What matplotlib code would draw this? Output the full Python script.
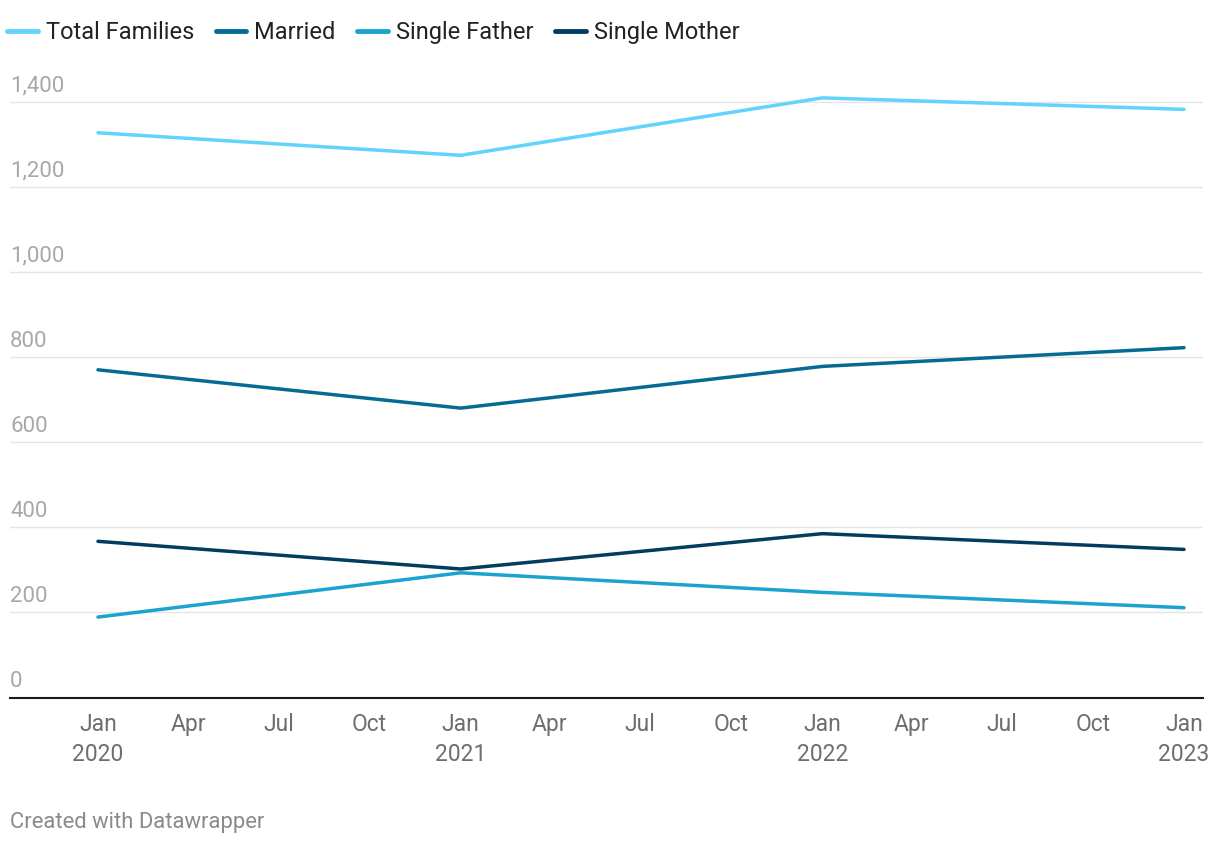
import matplotlib
matplotlib.use("Agg")
import matplotlib.pyplot as plt
import matplotlib.dates as mdates
import matplotlib.transforms as mtransforms
from matplotlib.lines import Line2D
import numpy as np
import datetime as dt

plt.rcParams['font.family'] = ['Roboto', 'DejaVu Sans']

# data
dates = [dt.date(2020, 1, 1), dt.date(2021, 1, 1), dt.date(2022, 1, 1), dt.date(2023, 1, 1)]
total_families = [1327, 1274, 1409, 1382]
married = [770, 680, 778, 822]
single_father = [189, 293, 247, 211]
single_mother = [367, 302, 385, 348]

series_names = ["Total Families", "Married", "Single Father", "Single Mother"]
series_values = [total_families, married, single_father, single_mother]
series_colors = ["#62d3fb", "#046c94", "#1aa3d0", "#023c5e"]

y_ticks = [0, 200, 400, 600, 800, 1000, 1200, 1400]
x_tick_dates = [dt.date(y, m, 1) for y in (2020, 2021, 2022) for m in (1, 4, 7, 10)] + [dt.date(2023, 1, 1)]
month_names = {1: "Jan", 4: "Apr", 7: "Jul", 10: "Oct"}

W, H = 1220, 846
fig = plt.figure(figsize=(W / 100, H / 100), dpi=100)

# axes placement in pixels
x0_px, x1_px = 10, 1203
y0_px = 697.5
px_per_unit = (697.5 - 101.7) / 1400
ymax = 1450
ytop_px = y0_px - ymax * px_per_unit
ax = fig.add_axes([x0_px / W, 1 - y0_px / H, (x1_px - x0_px) / W, (y0_px - ytop_px) / H])

# x limits so Jan 2020 sits at 98px and Jan 2023 at 1184px
d0 = mdates.date2num(dates[0])
d3 = mdates.date2num(dates[-1])
px_per_day = (1184 - 98) / (d3 - d0)
ax.set_xlim(d0 - (98 - x0_px) / px_per_day, d3 + (x1_px - 1184) / px_per_day)
ax.set_ylim(0, ymax)

xnum = mdates.date2num(dates)
for name, vals, col in zip(series_names, series_values, series_colors):
    ax.plot(xnum, vals, color=col, lw=2.5, solid_capstyle='round', solid_joinstyle='round',
            label=name, clip_on=False, zorder=3)

# grid and baseline
for v in y_ticks[1:]:
    ax.axhline(v, color="#e5e5e5", lw=1.0, zorder=1)
ax.axhline(0, color="#1a1a1a", lw=1.5, zorder=4, clip_on=False)

for s in ax.spines.values():
    s.set_visible(False)
ax.set_yticks([])

# y labels sit above their gridlines, left aligned
ylab_tr = mtransforms.offset_copy(ax.get_yaxis_transform(), fig=fig, x=0, y=7.5, units='points')
for v in y_ticks:
    ax.text(0, v, f"{v:,}", transform=ylab_tr, ha='left', va='baseline',
            fontsize=16, color="#a8a8a8")

# x tick labels
xt = mdates.date2num(x_tick_dates)
xlabels = [f"{month_names[d.month]}\n{d.year}" if d.month == 1 else month_names[d.month] for d in x_tick_dates]
ax.set_xticks(xt)
ax.set_xticklabels(xlabels, fontsize=16.5, color="#6e6e6e", linespacing=1.35)
ax.tick_params(axis='x', length=0, pad=11.5)

# legend along the top
handles = [Line2D([0], [0], color=c, lw=3.5, solid_capstyle='round') for c in series_colors]
fig.legend(handles, series_names, loc='upper left', bbox_to_anchor=(0.0, 1 - 14 / H),
           ncol=4, frameon=False, fontsize=17, handlelength=1.3, handletextpad=0.35,
           columnspacing=0.9, borderaxespad=0.0, borderpad=0.3,
           labelcolor="#222222")

fig.text(10 / W, 1 - 828 / H, "Created with Datawrapper", ha='left', va='baseline',
         fontsize=15.8, color="#8a8a8a")

fig.savefig("out.png", dpi=100, facecolor="white")
